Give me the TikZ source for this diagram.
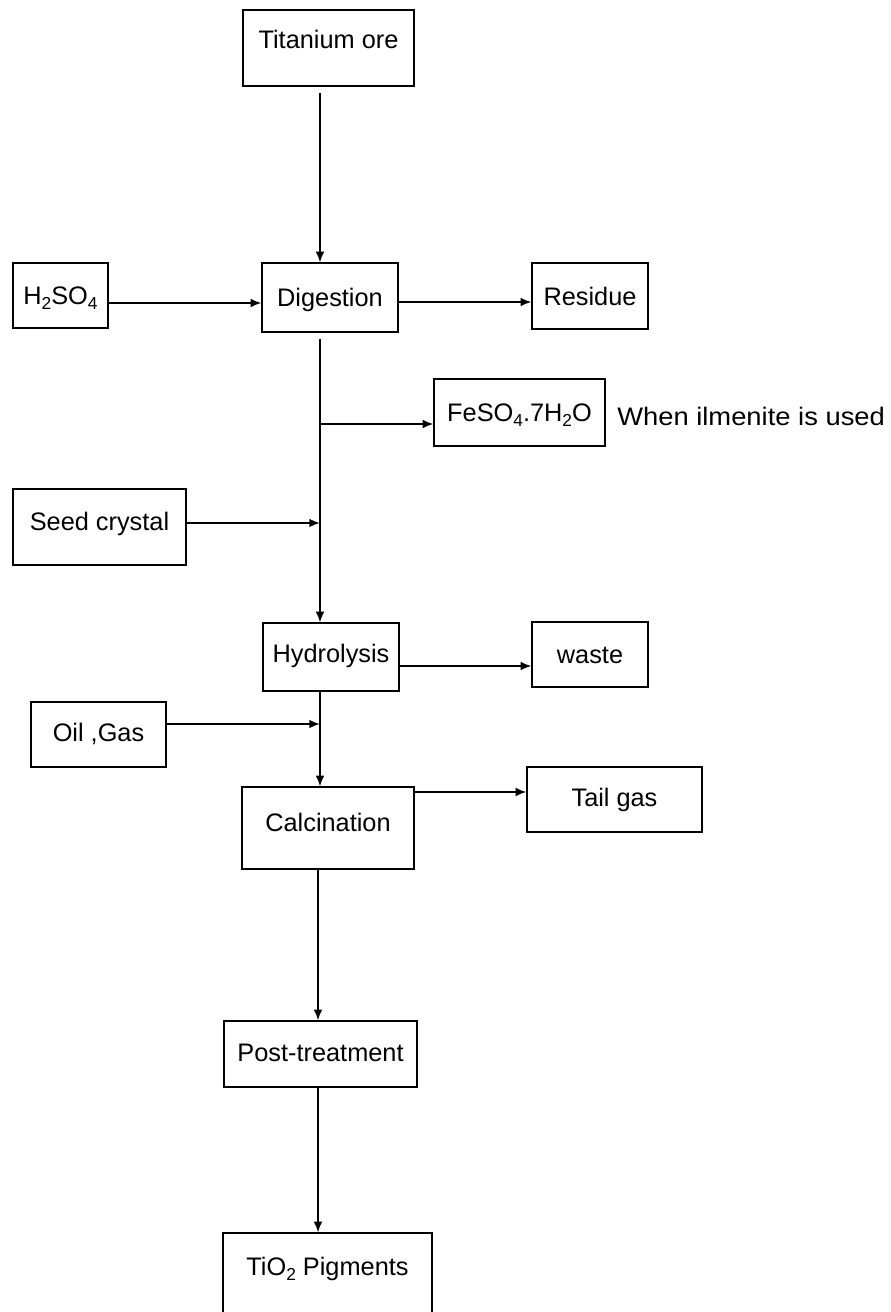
\documentclass[tikz,border=0pt]{standalone}
\usepackage{fontspec}
\setmainfont{Liberation Sans}
\usetikzlibrary{arrows.meta}
\newcommand{\sbs}[1]{\raisebox{-4pt}{\fontsize{13}{13}\selectfont #1}}
\begin{document}
\begin{tikzpicture}[x=0.75pt,y=-0.75pt,
  bx/.style 2 args={draw=black, line width=0.9pt, inner sep=0pt, text height=13.6pt, text depth=0pt,
     minimum width=#1*0.75pt, minimum height=#2*0.75pt, font=\fontsize{19}{22}\selectfont},
  lift/.style={text depth=#1},
  arr/.style={draw=black, line width=1.3pt, -{Latex[length=8pt,width=6.5pt]}},
  note/.style={inner sep=0pt, text height=13.6pt, text depth=0pt, font=\fontsize{19}{22}\selectfont}]
\useasboundingbox (0,0) rectangle (891,1312);
\fill[white] (0,0) rectangle (891,1312);
\clip (0,0) rectangle (891,1312);
% boxes
\node[bx={171}{76}, lift=13.5pt] (ore) at (328.5,48) {Titanium ore};
\node[bx={95}{65}] (h2) at (60.5,295.5) {H\sbs{2}SO\sbs{4}};
\node[bx={136}{69}] (dig) at (330,297.5) {Digestion};
\node[bx={116}{66}] (res) at (590,296) {Residue};
\node[bx={171}{67}] (fe) at (519.5,412.5) {FeSO\sbs{4}.7H\sbs{2}O};
\node[note, anchor=west, xscale=1.08] (nt) at (617,416) {When ilmenite is used};
\node[bx={173}{76}, lift=9pt] (seed) at (99.5,527) {Seed crystal};
\node[bx={136}{68}, lift=6pt] (hyd) at (331,657) {Hydrolysis};
\node[bx={116}{65}] (waste) at (590,654.5) {waste};
\node[bx={135}{65}, lift=3pt] (oil) at (98.5,734.5) {Oil ,Gas};
\node[bx={172}{82}, lift=9pt] (calc) at (328,828) {Calcination};
\node[bx={175}{65}, lift=3pt] (tail) at (614.5,799.5) {Tail gas};
\node[bx={193}{66}, lift=3pt] (post) at (320.5,1054) {Post-treatment};
\node[bx={209}{87}, lift=15.75pt] (tio) at (327.5,1276.5) {TiO\sbs{2} Pigments};
% reference coordinates
\coordinate (trunk) at (320,0);
\coordinate (trunkb) at (318,0);
\coordinate (y1) at (0,303);
\coordinate (y2) at (0,302);
\coordinate (y3) at (0,424);
\coordinate (y4) at (0,523);
\coordinate (y5) at (0,666);
\coordinate (y6) at (0,724);
\coordinate (y7) at (0,792);
% connectors
\draw[arr, shorten <=5pt] (ore.south -| trunk) -- (dig.north -| trunk);
\draw[arr] (h2.east |- y1) -- (dig.west |- y1);
\draw[arr] (dig.east |- y2) -- (res.west |- y2);
\draw[arr, shorten <=4.5pt] (dig.south -| trunk) -- (hyd.north -| trunk);
\draw[arr] (trunk |- y3) -- (fe.west |- y3);
\draw[arr] (seed.east |- y4) -- (trunk |- y4);
\draw[arr] (hyd.east |- y5) -- (waste.west |- y5);
\draw[arr] (hyd.south -| trunk) -- (calc.north -| trunk);
\draw[arr] (oil.east |- y6) -- (trunk |- y6);
\draw[arr] (calc.east |- y7) -- (tail.west |- y7);
\draw[arr] (calc.south -| trunkb) -- (post.north -| trunkb);
\draw[arr] (post.south -| trunkb) -- (tio.north -| trunkb);
\end{tikzpicture}
\end{document}
